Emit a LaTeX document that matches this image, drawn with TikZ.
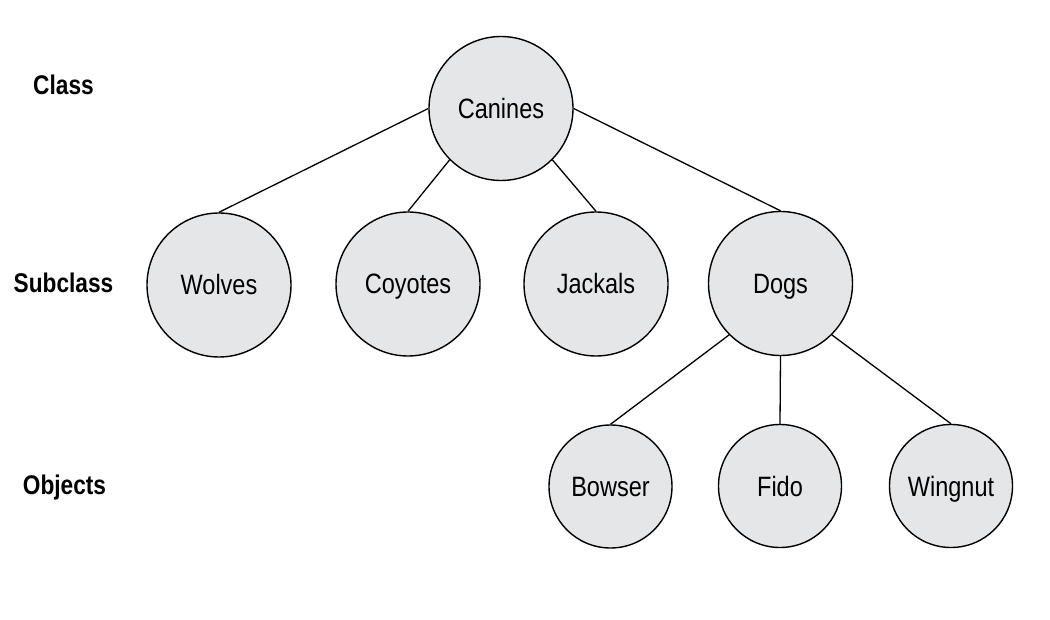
\documentclass[tikz,border=0pt]{standalone}
\usepackage{fontspec}
\setmainfont{Liberation Sans}[FakeStretch=0.84]
\begin{document}
\begin{tikzpicture}[x=1pt,y=-1pt,
  cls/.style={circle,draw=black,line width=1.4pt,fill={rgb,255:red,229;green,230;blue,232},inner sep=0pt,
    font=\fontsize{28}{32}\selectfont,text height=20pt,text depth=0pt},
  big/.style={cls,minimum size=144pt},
  small/.style={cls,minimum size=123pt},
  lvl/.style={font=\fontsize{27}{32}\selectfont\bfseries,text height=19pt,text depth=0pt,inner sep=0pt},
  edge/.style={line width=1.3pt}]
\useasboundingbox (0,0) rectangle (1050,620);
\node[big] (canines) at (501,108.5) {Canines};
\node[big] (wolves) at (219,285) {Wolves};
\node[big] (coyotes) at (408,284) {Coyotes};
\node[big] (jackals) at (596,284) {Jackals};
\node[big] (dogs) at (780.5,283.5) {Dogs};
\node[small] (bowser) at (610.5,486.5) {Bowser};
\node[small] (fido) at (780,486) {Fido};
\node[small] (wingnut) at (951,486) {Wingnut};
\node[lvl] (lclass) at (63.5,85) {Class};
\node[lvl] (lsub) at (63.5,283) {Subclass};
\node[lvl] (lobj) at (64.5,485) {Objects};
\draw[edge] (canines.west) -- (wolves.north);
\draw[edge] (canines.south west) -- (coyotes.north);
\draw[edge] (canines.south east) -- (jackals.north);
\draw[edge] (canines.east) -- (dogs.north);
\draw[edge] (dogs.south west) -- (bowser.north);
\draw[edge] (dogs.south) -- (fido.north);
\draw[edge] (dogs.south east) -- (wingnut.north);
\end{tikzpicture}
\end{document}
